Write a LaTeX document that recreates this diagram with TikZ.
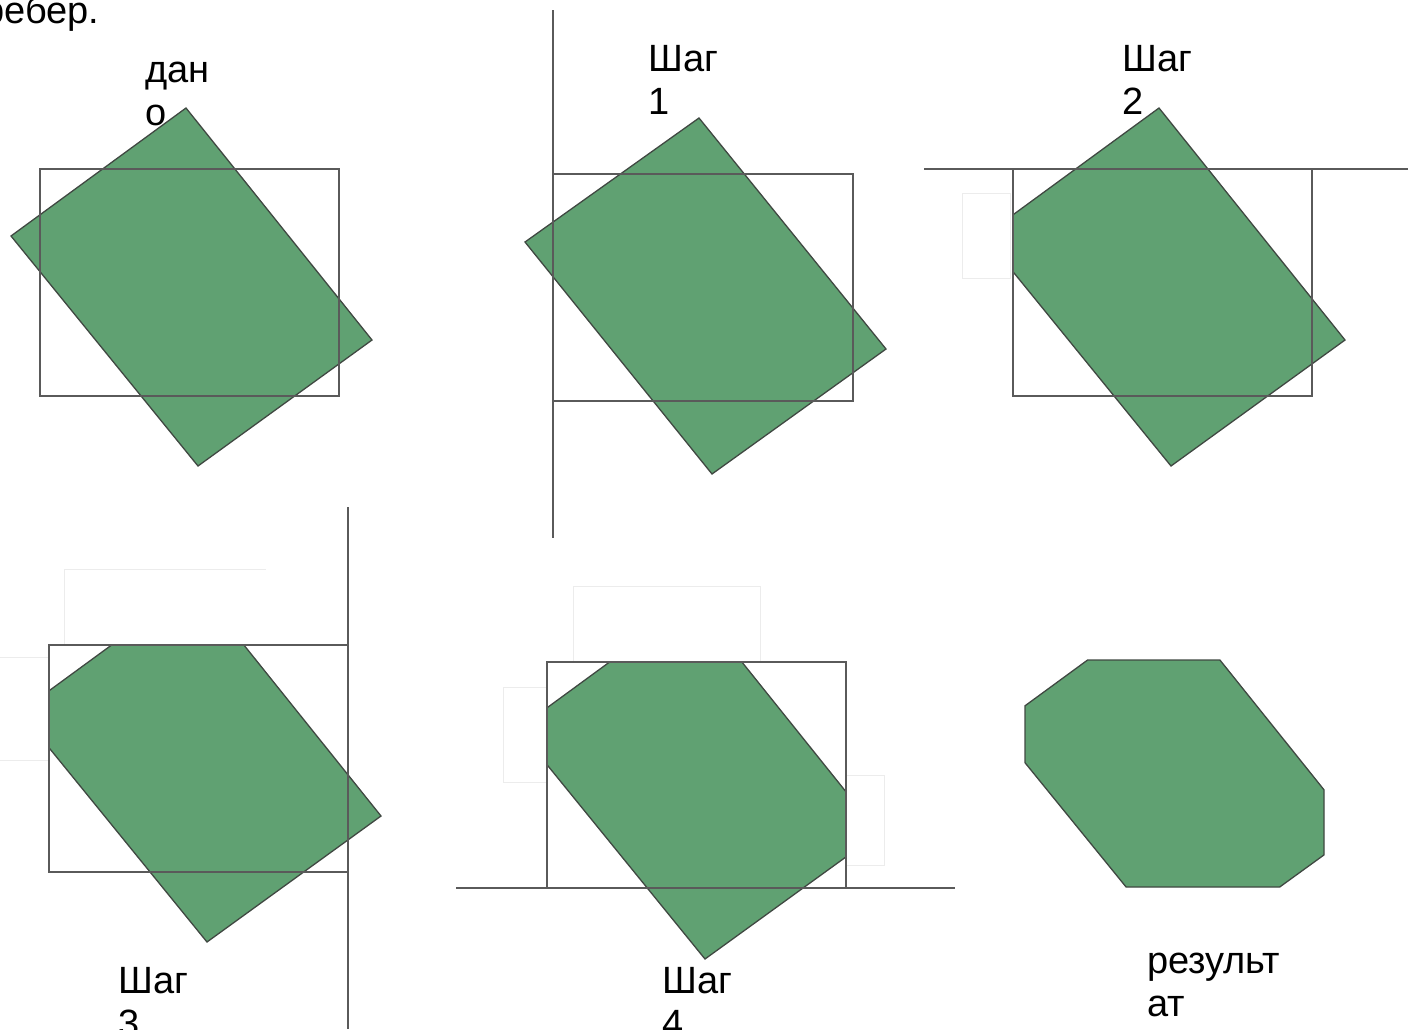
\documentclass[tikz,border=0pt]{standalone}
\usepackage{fontspec}
\setmainfont{Liberation Sans}
\definecolor{poly}{RGB}{96,161,114}
\definecolor{polyedge}{RGB}{64,72,66}
\definecolor{framec}{RGB}{90,90,90}
\definecolor{faint}{RGB}{236,236,236}
\begin{document}
\begin{tikzpicture}[x=1pt,y=-1pt,
  greenpoly/.style={fill=poly,draw=polyedge,line width=1.3pt,line join=miter},
  framebox/.style={draw=framec,line width=1.4pt},
  clipline/.style={draw=framec,line width=1.4pt},
  ghost/.style={draw=faint,line width=0.9pt},
  lbl/.style={font=\fontsize{38}{43}\selectfont,inner sep=0pt,anchor=base west,text=black}]
\useasboundingbox (0,0) rectangle (1408,1029);
\clip (0,0) rectangle (1408,1029);
% ---- given
\draw[greenpoly] (11,236) -- (186,108) -- (372,340) -- (198,466) -- cycle;
\draw[framebox] (40,169) rectangle (339,396);
% ---- step 1
\draw[greenpoly] (525,242) -- (699,118) -- (886,349) -- (712,474) -- cycle;
\draw[framebox] (553,174) rectangle (853,401);
\draw[clipline] (553,10) -- (553,538);
% ---- step 2
\draw[ghost] (962,193) rectangle (1010,278);
\draw[greenpoly] (1013,214.8) -- (1159,108) -- (1345,340) -- (1171,466) -- (1013,271.7) -- cycle;
\draw[framebox] (1013,169) rectangle (1312,396);
\draw[clipline] (924,169) -- (1408,169);
% ---- step 3
\draw[ghost] (64,645) -- (64,569) -- (266,569);
\draw[ghost] (0,657) -- (49,657);
\draw[ghost] (0,760) -- (49,760);
\draw[greenpoly] (49,690.8) -- (111.6,645) -- (243.9,645) -- (381,816) -- (207,942) -- (49,747.7) -- cycle;
\draw[framebox] (49,645) rectangle (348,872);
\draw[clipline] (348,507) -- (348,1029);
% ---- step 4
\draw[ghost] (573,662) -- (573,586) -- (760,586) -- (760,662);
\draw[ghost] (547,687) -- (503,687) -- (503,782) -- (547,782);
\draw[ghost] (846,775) -- (884,775) -- (884,865) -- (846,865);
\draw[greenpoly] (547,707.8) -- (609.6,662) -- (741.9,662) -- (846,791.8) -- (846,856.9) -- (705,959) -- (547,764.7) -- cycle;
\draw[framebox] (547,662) rectangle (846,888);
\draw[clipline] (456,888) -- (955,888);
% ---- result
\draw[greenpoly] (1087.6,660) -- (1219.9,660) -- (1324,789.8) -- (1324,854.9) -- (1279.7,887) -- (1126.1,887) -- (1025,762.7) -- (1025,705.8) -- cycle;
% ---- labels
\node[lbl] (top) at (-17,23) {ребер.};
\node[lbl] (g1) at (145,82) {дан};
\node[lbl] (g2) at ([yshift=-43pt]g1.base west) {о};
\node[lbl] (s1a) at (648,71) {Шаг};
\node[lbl] (s1b) at ([yshift=-43pt]s1a.base west) {1};
\node[lbl] (s2a) at (1122,71) {Шаг};
\node[lbl] (s2b) at ([yshift=-43pt]s2a.base west) {2};
\node[lbl] (s3a) at (118,993) {Шаг};
\node[lbl] (s3b) at ([yshift=-43pt]s3a.base west) {3};
\node[lbl] (s4a) at (662,993) {Шаг};
\node[lbl] (s4b) at ([yshift=-43pt]s4a.base west) {4};
\node[lbl] (r1) at (1147,973) {результ};
\node[lbl] (r2) at ([yshift=-43pt]r1.base west) {ат};
\end{tikzpicture}
\end{document}
